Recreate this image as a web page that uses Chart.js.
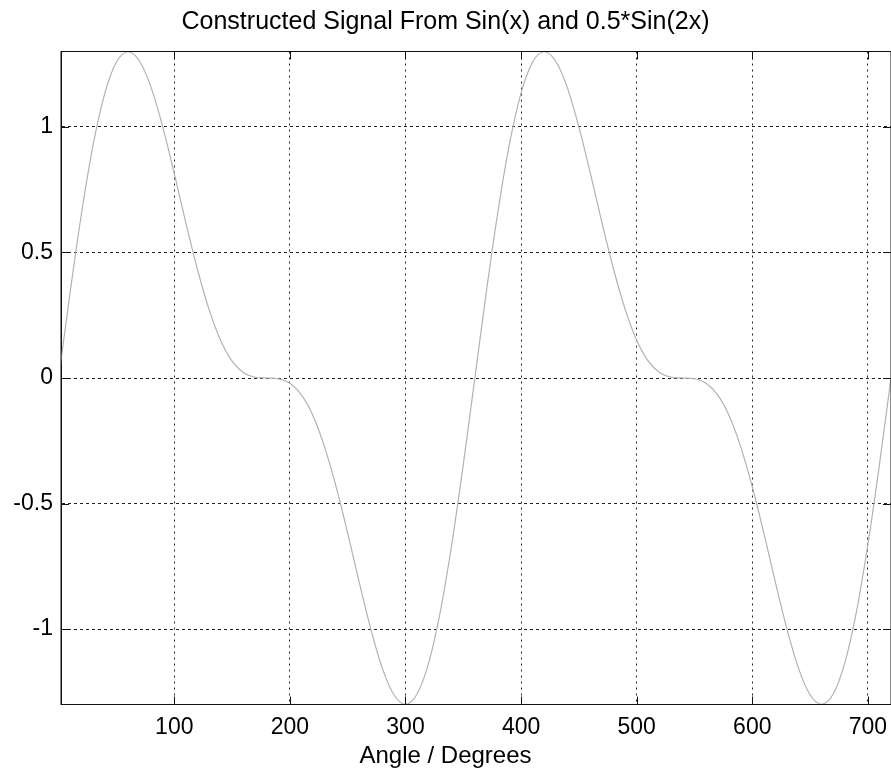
<!DOCTYPE html>
<html>
<head>
<meta charset="utf-8">
<title>Constructed Signal</title>
<script src="https://cdn.jsdelivr.net/npm/chart.js@4.4.1/dist/chart.umd.min.js"></script>
<style>
  html, body { margin: 0; padding: 0; background: #fff; overflow: hidden; }
  #wrap { width: 926px; height: 770px; }
</style>
</head>
<body>
<div id="wrap"><canvas id="signal" width="926" height="770"></canvas></div>
<script>
// angle samples (degrees) and the signal
const angles = [
    0, 10, 20, 30, 40, 50, 60, 70, 80, 90, 100, 110, 120, 130, 140, 150, 160, 170, 180,
    190, 200, 210, 220, 230, 240, 250, 260, 270, 280, 290, 300, 310, 320, 330, 340, 350,
    360, 370, 380, 390, 400, 410, 420, 430, 440, 450, 460, 470, 480, 490, 500, 510, 520, 530, 540,
    550, 560, 570, 580, 590, 600, 610, 620, 630, 640, 650, 660, 670, 680, 690, 700, 710, 720
];
const signal = [
    0, 0.345, 0.663, 0.933, 1.135, 1.258, 1.299, 1.261, 1.156, 1.000, 0.814, 0.618, 0.433, 0.274, 0.150, 0.067, 0.021, 0.003, 0,
    -0.003, -0.021, -0.067, -0.150, -0.274, -0.433, -0.618, -0.814, -1.000, -1.156, -1.261, -1.299, -1.258, -1.135, -0.933, -0.663, -0.345,
    0, 0.345, 0.663, 0.933, 1.135, 1.258, 1.299, 1.261, 1.156, 1.000, 0.814, 0.618, 0.433, 0.274, 0.150, 0.067, 0.021, 0.003, 0,
    -0.003, -0.021, -0.067, -0.150, -0.274, -0.433, -0.618, -0.814, -1.000, -1.156, -1.261, -1.299, -1.258, -1.135, -0.933, -0.663, -0.345,
    0
];
const xTicks = [100, 200, 300, 400, 500, 600, 700];
const yTicks = [-1, -0.5, 0, 0.5, 1];

const fontFamily = "'Liberation Sans', Arial, sans-serif";

// box around the plot and the short inward tick marks (matlab style)
const boxPlugin = {
    id: 'box',
    afterDraw(chart) {
        const ctx = chart.ctx;
        const a = chart.chartArea;
        const xs = chart.scales.x;
        const ys = chart.scales.y;
        ctx.save();
        ctx.strokeStyle = '#111';
        ctx.lineWidth = 1;
        ctx.setLineDash([]);
        ctx.strokeRect(a.left, a.top, a.right - a.left, a.bottom - a.top);
        ctx.beginPath();
        xTicks.forEach(v => {
            const px = Math.round(xs.getPixelForValue(v)) + 0.5;
            ctx.moveTo(px, a.bottom);
            ctx.lineTo(px, a.bottom - 8);
            ctx.moveTo(px, a.top);
            ctx.lineTo(px, a.top + 8);
        });
        yTicks.forEach(v => {
            const py = Math.round(ys.getPixelForValue(v)) + 0.5;
            ctx.moveTo(a.left, py);
            ctx.lineTo(a.left + 8, py);
            ctx.moveTo(a.right, py);
            ctx.lineTo(a.right - 8, py);
        });
        ctx.stroke();
        ctx.restore();
    }
};

const dataSignal = {
    datasets: [{
        label: 'signal',
        data: angles.map((a, i) => ({ x: a, y: signal[i] })),
        borderColor: '#b2b2b2',
        borderWidth: 1.2,
        pointRadius: 0,
        cubicInterpolationMode: 'monotone',
        fill: false
    }]
};

const configSignal = {
    type: 'line',
    data: dataSignal,
    options: {
        responsive: false,
        animation: false,
        layout: { padding: { left: 0, right: 35, top: 0, bottom: 0 } },
        plugins: {
            legend: { display: false },
            tooltip: { enabled: false },
            title: {
                display: true,
                text: 'Constructed Signal From Sin(x) and 0.5*Sin(2x)',
                color: '#000',
                font: { family: fontFamily, size: 25, weight: 'normal' },
                padding: { top: 7, bottom: 14.5 }
            },
            subtitle: {
                display: true,
                position: 'bottom',
                text: 'Angle / Degrees',
                color: '#000',
                font: { family: fontFamily, size: 24, weight: 'normal', lineHeight: 1 },
                padding: { top: 0, bottom: 2 }
            }
        },
        scales: {
            x: {
                type: 'linear',
                min: 2,
                max: 720,
                afterBuildTicks: scale => { scale.ticks = xTicks.map(v => ({ value: v })); },
                afterFit: scale => { scale.height = 39.5; },
                ticks: {
                    color: '#000',
                    padding: 9,
                    font: { family: fontFamily, size: 23 },
                    maxRotation: 0
                },
                grid: { color: '#222', lineWidth: 1, drawTicks: false },
                border: { display: true, color: '#111', dash: [2, 4] }
            },
            y: {
                min: -1.3,
                max: 1.3,
                afterBuildTicks: scale => { scale.ticks = yTicks.map(v => ({ value: v })); },
                afterFit: scale => { scale.width = 61; },
                ticks: {
                    color: '#000',
                    padding: 8,
                    font: { family: fontFamily, size: 23 },
                    callback: v => String(v)
                },
                grid: { color: '#222', lineWidth: 1, drawTicks: false },
                border: { display: true, color: '#111', dash: [3, 3] }
            }
        }
    },
    plugins: [boxPlugin]
};

const signalChart = new Chart(document.getElementById('signal'), configSignal);
</script>
</body>
</html>
